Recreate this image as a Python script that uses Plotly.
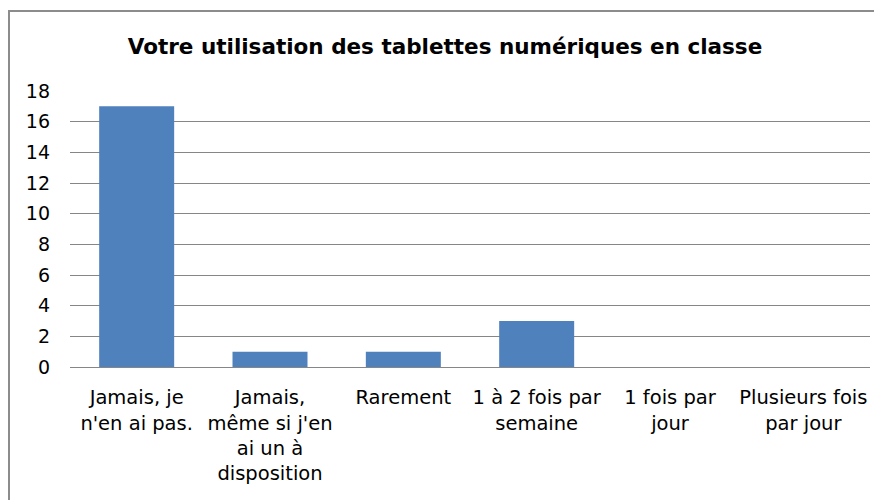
import plotly.graph_objects as go

categories = [
    "Jamais, je<br>n'en ai pas.",
    "Jamais,<br>même si j'en<br>ai un à<br>disposition",
    "Rarement",
    "1 à 2 fois par<br>semaine",
    "1 fois par<br>jour",
    "Plusieurs fois<br>par jour",
]
values = [17, 1, 1, 3, 0, 0]
y_ticks = [0, 2, 4, 6, 8, 10, 12, 14, 16, 18]
title_text = "Votre utilisation des tablettes numériques en classe"

FONT = "DejaVu Sans, sans-serif"

# page body has an 8px margin; figure is sized to fill the remaining window
W, H = 874, 492
L, T, PW, PH = 62, 83, 800, 276

fig = go.Figure(
    go.Bar(
        x=categories,
        y=values,
        marker=dict(color="#4F81BD", line=dict(width=0)),
        hoverinfo="x+y",
    )
)

fig.update_layout(
    width=W,
    height=H,
    margin=dict(l=L, r=W - L - PW, t=T, b=H - T - PH),
    paper_bgcolor="white",
    plot_bgcolor="white",
    bargap=0.4375,
    showlegend=False,
    title=dict(
        text="<b>" + title_text + "</b>",
        x=0.5,
        xanchor="center",
        y=1 - 38 / H,
        yanchor="middle",
        font=dict(family=FONT, size=21.5, color="black"),
    ),
    font=dict(family=FONT, size=19, color="black"),
    xaxis=dict(
        showgrid=False,
        showline=True,
        linecolor="#868686",
        linewidth=1,
        ticks="",
        tickangle=0,
        ticklabelstandoff=13,
        tickfont=dict(family=FONT, size=19.5, color="black"),
    ),
    yaxis=dict(
        range=[0, 18],
        tickvals=y_ticks,
        showgrid=True,
        gridcolor="#868686",
        gridwidth=1,
        zeroline=False,
        showline=False,
        ticks="",
        ticklabelstandoff=19,
        tickfont=dict(family=FONT, size=19, color="black"),
    ),
    shapes=[
        dict(
            type="rect",
            xref="paper",
            yref="paper",
            x0=(1 - L) / PW,
            x1=1.05,
            y0=(T + PH - 3) / PH,
            y1=-0.6,
            line=dict(color="#8c8c8c", width=2),
            fillcolor="rgba(0,0,0,0)",
            layer="below",
        )
    ],
)

fig.write_html("out.html")
